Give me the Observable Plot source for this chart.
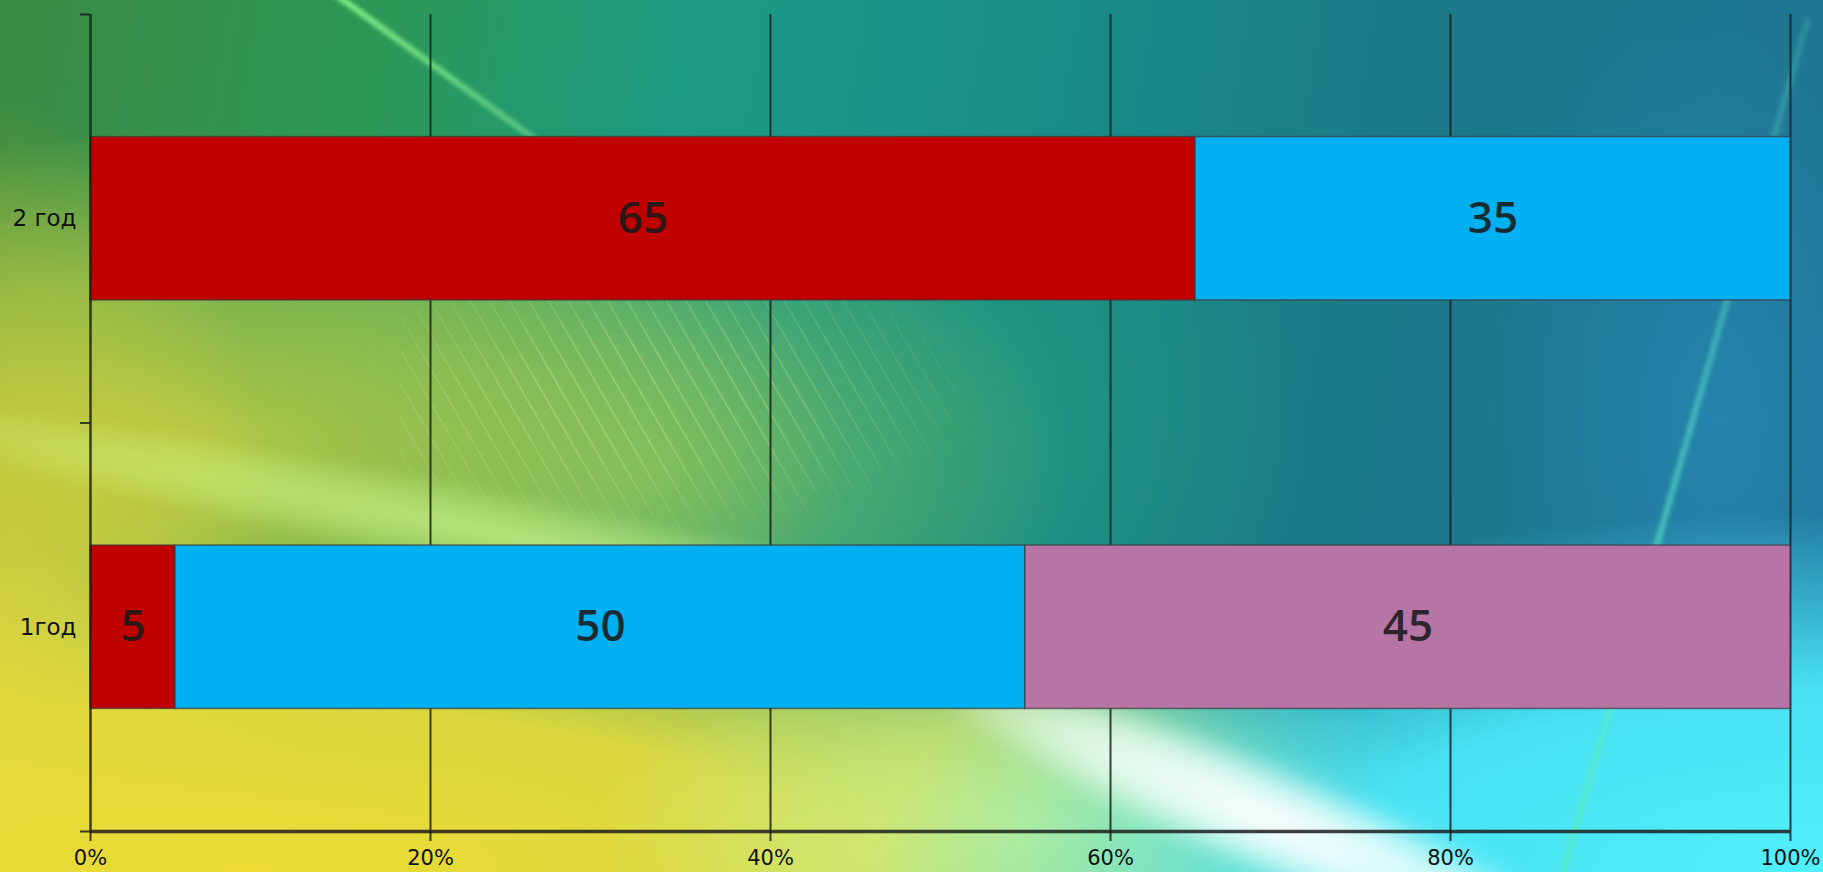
<!DOCTYPE html>
<html>
<head>
<meta charset="utf-8">
<script src="https://cdn.jsdelivr.net/npm/d3@7"></script>
<script src="https://cdn.jsdelivr.net/npm/@observablehq/plot@0.6"></script>
<style>
  html, body { margin: 0; padding: 0; }
  #wrap {
    position: relative;
    width: 1823px; height: 872px; overflow: hidden;
    background:
      radial-gradient(ellipse 950px 360px at 1823px 872px, rgba(80,240,250,1) 0%, rgba(75,232,248,0.95) 50%, rgba(60,215,240,0) 100%),
      radial-gradient(ellipse 420px 210px at 1020px 830px, rgba(215,240,130,0.95) 0%, rgba(205,235,125,0.7) 50%, rgba(200,235,130,0) 100%),
      radial-gradient(ellipse 1150px 330px at 250px 872px, rgba(236,220,52,1) 0%, rgba(228,218,60,0.95) 50%, rgba(215,215,70,0.5) 78%, rgba(200,210,80,0) 100%),
      radial-gradient(ellipse 300px 600px at 0px 700px, rgba(232,215,55,0.9) 0%, rgba(232,215,55,0) 100%),
      radial-gradient(ellipse 650px 320px at 200px 450px, rgba(185,202,70,0.95) 0%, rgba(170,198,75,0.6) 55%, rgba(150,190,80,0) 100%),
      radial-gradient(ellipse 420px 300px at 650px 470px, rgba(140,200,90,0.7) 0%, rgba(140,200,90,0) 100%),
      radial-gradient(ellipse 360px 300px at 950px 420px, rgba(40,155,120,0.7) 0%, rgba(40,155,120,0) 100%),
      radial-gradient(ellipse 260px 500px at 1720px 420px, rgba(40,135,180,0.8) 0%, rgba(40,135,180,0) 100%),
      linear-gradient(100deg, #3c8a42 0%, #2c9858 20%, #1c9a84 36%, #1a8c88 55%, #1b7a88 72%, #1e7090 100%);
  }
  .deco { position: absolute; pointer-events: none; }
  #wrap svg { position: absolute; left: 0; top: 0; }
</style>
</head>
<body>
<div id="wrap">
  <!-- decorative wallpaper streaks -->
  <div class="deco" style="left:880px; top:760px; width:780px; height:120px; transform: rotate(23deg); background: radial-gradient(ellipse at 50% 50%, rgba(255,255,255,1) 0%, rgba(245,255,250,0.75) 38%, rgba(255,255,255,0) 70%); filter: blur(10px);"></div>
  <div class="deco" style="left:-60px; top:380px; width:1300px; height:90px; transform: rotate(11deg); transform-origin: 0 50%; background: radial-gradient(ellipse at 45% 50%, rgba(215,255,150,0.6) 0%, rgba(205,250,140,0.35) 40%, rgba(200,250,140,0) 70%); filter: blur(6px);"></div>
  <div class="deco" style="left:300px; top:60px; width:260px; height:6px; transform: rotate(36deg); background: linear-gradient(to right, rgba(140,255,140,0.9), rgba(160,255,160,0.4)); filter: blur(2px);"></div>
  <div class="deco" style="width:900px; height:6px; transform: rotate(-74deg); transform-origin: 0 50%; background: linear-gradient(to right, rgba(90,235,200,0.9), rgba(90,235,200,0.2)); filter: blur(2px); top:880px; left:1560px;"></div>
  <div class="deco" style="left:400px; top:290px; width:600px; height:260px; background: repeating-linear-gradient(60deg, rgba(230,255,170,0) 0px, rgba(230,255,170,0) 14px, rgba(230,255,170,0.3) 15px, rgba(230,255,170,0) 17px); -webkit-mask-image: radial-gradient(ellipse at 40% 40%, #000 20%, transparent 70%); mask-image: radial-gradient(ellipse at 40% 40%, #000 20%, transparent 70%);"></div>
</div>
<script>
// Data
const categories = ["1год", "2 год"];            // bottom to top
const seriesColors = ["#c00000", "#00b0f0", "#b675a5"];
const values1 = [5, 50, 45];                      // 1год
const values2 = [65, 35, 0];                      // 2 год
const xTicks = [0, 20, 40, 60, 80, 100];

const seriesValues = [values1, values2];
const rows = [];
categories.forEach((cat, i) => {
  let acc = 0;
  seriesValues[i].forEach((v, j) => {
    if (v > 0) rows.push({cat, i, j, v, x1: acc, x2: acc + v});
    acc += v;
  });
});

const lineColor = "#1e1e1e";

const chart = Plot.plot({
  width: 1823,
  height: 872,
  marginLeft: 90,
  marginRight: 33,
  marginTop: 14,
  marginBottom: 41,
  style: {background: "transparent", fontFamily: "DejaVu Sans, sans-serif", color: "#111"},
  x: {domain: [0, 100]},
  y: {domain: [0, 2]},
  marks: [
    Plot.gridX(xTicks.slice(1), {stroke: lineColor, strokeOpacity: 0.85, strokeWidth: 2}),
    Plot.rect(rows, {
      x1: "x1", x2: "x2",
      y1: d => d.i + 0.3, y2: d => d.i + 0.7,
      fill: d => seriesColors[d.j],
      stroke: "#3a3a3a", strokeOpacity: 0.7, strokeWidth: 1.5
    }),
    Plot.text(rows, {
      x: d => (d.x1 + d.x2) / 2,
      y: d => d.i + 0.5,
      text: d => String(d.v),
      fontSize: 44,
      fontWeight: 600,
      fontFamily: "Open Sans, sans-serif",
      fill: "#1a1a1a",
      fillOpacity: 0.88
    }),
    Plot.ruleY([0], {stroke: lineColor, strokeWidth: 3.5, strokeOpacity: 0.85}),
    Plot.ruleX([0], {stroke: lineColor, strokeWidth: 2.5, strokeOpacity: 0.85}),
    Plot.axisX({ticks: xTicks, tickFormat: d => d + "%", tickSize: 10, tickPadding: 9,
      fontSize: 21, label: null, stroke: lineColor, strokeWidth: 2, strokeOpacity: 0.85}),
    Plot.axisY({ticks: [0, 1, 2], tickSize: 10, tickFormat: () => "", label: null,
      stroke: lineColor, strokeWidth: 2, strokeOpacity: 0.85}),
    Plot.axisY({ticks: [0.5, 1.5], tickSize: 0, tickPadding: 14,
      tickFormat: d => categories[Math.floor(d)], fontSize: 23, label: null})
  ]
});
document.getElementById("wrap").appendChild(chart);
</script>
</body>
</html>
